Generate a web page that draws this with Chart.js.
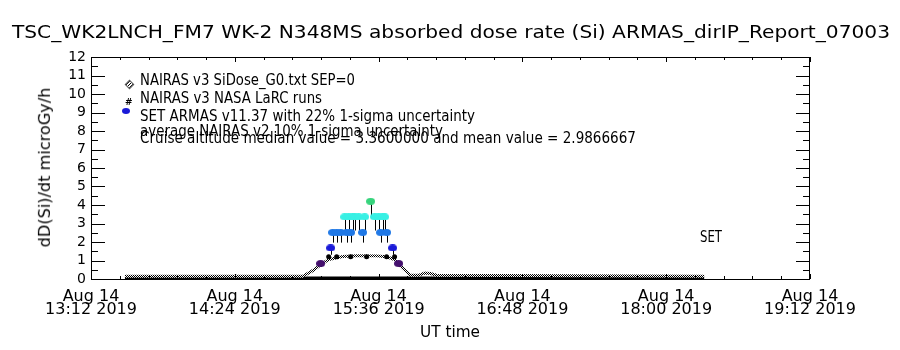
<!DOCTYPE html>
<html>
<head>
<meta charset="utf-8">
<script src="https://cdn.jsdelivr.net/npm/chart.js@4.4.1/dist/chart.umd.min.js"></script>
<style>
  body { margin: 0; background: #fff; }
  #wrap { position: relative; width: 900px; height: 350px; overflow: hidden; background: #fff; }
  #chart { position: absolute; left: 0; top: 0; }
  .txt { position: absolute; white-space: nowrap; font-family: "DejaVu Sans", sans-serif; color: #000; line-height: 1; transform-origin: 0 0; }
  .sym { position: absolute; }
</style>
</head>
<body>
<div id="wrap">
  <canvas id="chart" width="900" height="350"></canvas>
  <div class="txt" id="title" style="left:12px;top:24px;font-size:17px" data-w="878">TSC_WK2LNCH_FM7 WK-2 N348MS absorbed dose rate (Si) ARMAS_dirIP_Report_07003</div>
  <div class="txt" id="ytitle" style="font-size:15px">dD(Si)/dt microGy/h</div>
  <div class="txt" id="xtitle" style="left:420px;top:325px;font-size:15px" data-w="60">UT time</div>

  <div class="sym" style="left:126px;top:81px;width:5px;height:5px;border:1px solid #555;transform:rotate(45deg);background:repeating-linear-gradient(90deg,#000 0 1px,#fff 1px 2px)"></div>
  <div class="txt" style="left:140px;top:72px;font-size:16px" data-w="215">NAIRAS v3 SiDose_G0.txt SEP=0</div>
  <div class="txt" style="left:125px;top:98px;font-size:9px;font-weight:bold">#</div>
  <div class="txt" style="left:140px;top:90px;font-size:16px" data-w="182">NAIRAS v3 NASA LaRC runs</div>
  <div class="sym" style="left:122px;top:108px;width:8px;height:6px;border-radius:50%;background:#1a1ad8"></div>
  <div class="txt" style="left:140px;top:108px;font-size:16px" data-w="335">SET ARMAS v11.37 with 22% 1-sigma uncertainty</div>
  <div class="txt" style="left:140px;top:123px;font-size:16px" data-w="303">average NAIRAS v2 10% 1-sigma uncertainty</div>
  <div class="txt" style="left:140px;top:130px;font-size:16px" data-w="496">Cruise altitude median value = 3.3600000 and mean value = 2.9866667</div>
  <div class="txt" style="left:700px;top:230px;font-size:15px" data-w="22">SET</div>
</div>
<script>
// time axis runs in minutes after 13:12 UT
const startTime = "13:12";
const xTickDates = ["Aug 14", "Aug 14", "Aug 14", "Aug 14", "Aug 14", "Aug 14"];
const xTickTimes = ["13:12 2019", "14:24 2019", "15:36 2019", "16:48 2019", "18:00 2019", "19:12 2019"];

// NAIRAS v3 SiDose_G0.txt SEP=0
const siTimes = ["13:29", "14:58", "15:03", "15:08", "15:11", "15:18", "15:25", "15:35", "15:40", "15:44", "15:48", "15:52", "15:56", "15:59", "16:02", "16:05", "18:19"];
const siValues = [0.15, 0.15, 0.45, 0.85, 1.05, 1.22, 1.26, 1.25, 1.2, 1.05, 0.6, 0.2, 0.2, 0.32, 0.3, 0.2, 0.15];

// NAIRAS v3 NASA LaRC runs
const larcTimes = ["15:11", "15:15", "15:22", "15:30", "15:40", "15:44"];
const larcValues = [1.2, 1.2, 1.2, 1.2, 1.2, 1.2];
const groundTimes = ["13:29", "18:19"];
const groundValues = [0, 0];

// SET ARMAS v11.37
const armasTimes = ["15:07", "15:12", "15:13", "15:15", "15:17", "15:19", "15:20", "15:21", "15:22", "15:23", "15:24", "15:26",
  "15:28", "15:29", "15:32", "15:34", "15:36", "15:37", "15:38", "15:39", "15:40", "15:43", "15:46"];
const armasValues = [0.84, 1.68, 2.52, 2.52, 2.52, 3.36, 2.52, 3.36, 2.52, 3.36, 3.36, 3.36,
  2.52, 3.36, 4.2, 3.36, 3.36, 2.52, 3.36, 3.36, 2.52, 1.68, 0.84];
const armasSigma = 0.22;

function toMin(s) {
  const [h, m] = s.split(":").map(Number);
  const [h0, m0] = startTime.split(":").map(Number);
  return h * 60 + m - (h0 * 60 + m0);
}
function pts(times, values) {
  return times.map((t, i) => ({ x: toMin(t), y: values[i] }));
}

function armasColor(v) {
  if (v < 1.2) return "#45106e";
  if (v < 2.0) return "#1a1ad8";
  if (v < 2.9) return "#1f78e6";
  if (v < 3.8) return "#38f0e4";
  return "#36d47c";
}
const ellipseCache = {};
function ellipse(color) {
  if (!ellipseCache[color]) {
    const c = document.createElement("canvas");
    c.width = 9; c.height = 7;
    const g = c.getContext("2d");
    g.fillStyle = color;
    g.beginPath();
    g.ellipse(4.5, 3.5, 4.5, 3.5, 0, 0, Math.PI * 2);
    g.fill();
    ellipseCache[color] = c;
  }
  return ellipseCache[color];
}

// checkered look of the densely plotted diamonds
const pc = document.createElement("canvas");
pc.width = 2; pc.height = 2;
const pg = pc.getContext("2d");
pg.fillStyle = "#fff"; pg.fillRect(0, 0, 2, 2);
pg.fillStyle = "#000"; pg.fillRect(0, 0, 1, 1); pg.fillRect(1, 1, 1, 1);
const checker = pg.createPattern(pc, "repeat");

const errorBars = {
  id: "errorBars",
  beforeDatasetDraw(chart, args) {
    if (args.index !== 0) return;
    const { ctx } = chart;
    const y = chart.scales.y;
    ctx.save();
    ctx.strokeStyle = "#000";
    ctx.lineWidth = 1;
    ctx.beginPath();
    args.meta.data.forEach((p, i) => {
      const x = Math.round(p.x) + 0.5;
      ctx.moveTo(x, p.y);
      ctx.lineTo(x, y.getPixelForValue(armasValues[i] * (1 - armasSigma)));
    });
    ctx.stroke();
    ctx.restore();
  }
};

const axisTicks = {
  id: "axisTicks",
  afterDraw(chart) {
    const { ctx, chartArea: a } = chart;
    const x = chart.scales.x, y = chart.scales.y;
    ctx.save();
    ctx.strokeStyle = "#000";
    ctx.lineWidth = 1;
    ctx.strokeRect(a.left + 0.5, a.top + 0.5, a.right - a.left - 1, a.bottom - a.top);
    ctx.beginPath();
    for (let v = 0; v <= 12; v += 0.5) {
      const py = Math.round(y.getPixelForValue(v)) + 0.5;
      const len = v % 1 === 0 ? 14 : 7;
      ctx.moveTo(a.left, py); ctx.lineTo(a.left + len, py);
      ctx.moveTo(a.right, py); ctx.lineTo(a.right - len, py);
    }
    for (let i = 0; i <= 25; i++) {
      const px = Math.round(x.getPixelForValue(i * 14.4)) + 0.5;
      const len = i % 5 === 0 ? 5 : 3;
      ctx.moveTo(px, a.bottom); ctx.lineTo(px, a.bottom - len);
      ctx.moveTo(px, a.top); ctx.lineTo(px, a.top + len);
    }
    ctx.stroke();
    ctx.restore();
  }
};

Chart.defaults.font.family = "'DejaVu Sans', sans-serif";
Chart.defaults.color = "#000";

const chart = new Chart(document.getElementById("chart"), {
  type: "scatter",
  data: {
    datasets: [
      {
        label: "SET ARMAS v11.37 with 22% 1-sigma uncertainty",
        data: pts(armasTimes, armasValues),
        showLine: false,
        pointStyle: (c) => ellipse(armasColor(c.raw ? c.raw.y : 0)),
        pointRadius: 4,
      },
      {
        label: "NAIRAS v3 NASA LaRC runs",
        data: pts(larcTimes, larcValues),
        showLine: false,
        pointRadius: 2.5,
        pointBackgroundColor: "#000",
        pointBorderWidth: 0,
      },
      {
        label: "NAIRAS v3 SiDose_G0.txt SEP=0",
        data: pts(siTimes, siValues),
        showLine: true,
        borderColor: checker,
        borderWidth: 3,
        pointRadius: 0,
      },
      {
        label: "ground",
        data: pts(groundTimes, groundValues),
        showLine: true,
        borderColor: "#000",
        borderWidth: 5,
        pointRadius: 0,
      },
    ],
  },
  options: {
    responsive: false,
    animation: false,
    devicePixelRatio: 1,
    layout: { padding: { left: 0, right: 90, top: 57, bottom: 0 } },
    plugins: { legend: { display: false }, tooltip: { enabled: false } },
    scales: {
      x: {
        type: "linear",
        min: 0,
        max: 360,
        grid: { display: false, drawTicks: false },
        border: { display: false },
        afterFit: (s) => { s.height = 71; },
        ticks: {
          stepSize: 72,
          autoSkip: false,
          maxRotation: 0,
          padding: 11,
          font: { size: 16, lineHeight: 0.82 },
          callback: (v, i) => [xTickDates[i], xTickTimes[i]],
        },
      },
      y: {
        min: 0,
        max: 12,
        grid: { display: false, drawTicks: false },
        border: { display: false },
        afterFit: (s) => { s.width = 91; },
        ticks: { stepSize: 1, autoSkip: false, padding: 5, font: { size: 14 } },
      },
    },
  },
  plugins: [errorBars, axisTicks],
});

// stretch the texts to the widths of the reference lettering
document.querySelectorAll(".txt[data-w]").forEach((el) => {
  const w = el.getBoundingClientRect().width;
  el.style.transform = "scaleX(" + (Number(el.dataset.w) / w) + ")";
});
const yt = document.getElementById("ytitle");
const yw = yt.offsetWidth, yh = yt.offsetHeight;
yt.style.transformOrigin = "50% 50%";
yt.style.left = (45 - yw / 2) + "px";
yt.style.top = (167 - yh / 2) + "px";
yt.style.transform = "rotate(-90deg) scaleX(" + (160 / yw) + ")";
</script>
</body>
</html>
